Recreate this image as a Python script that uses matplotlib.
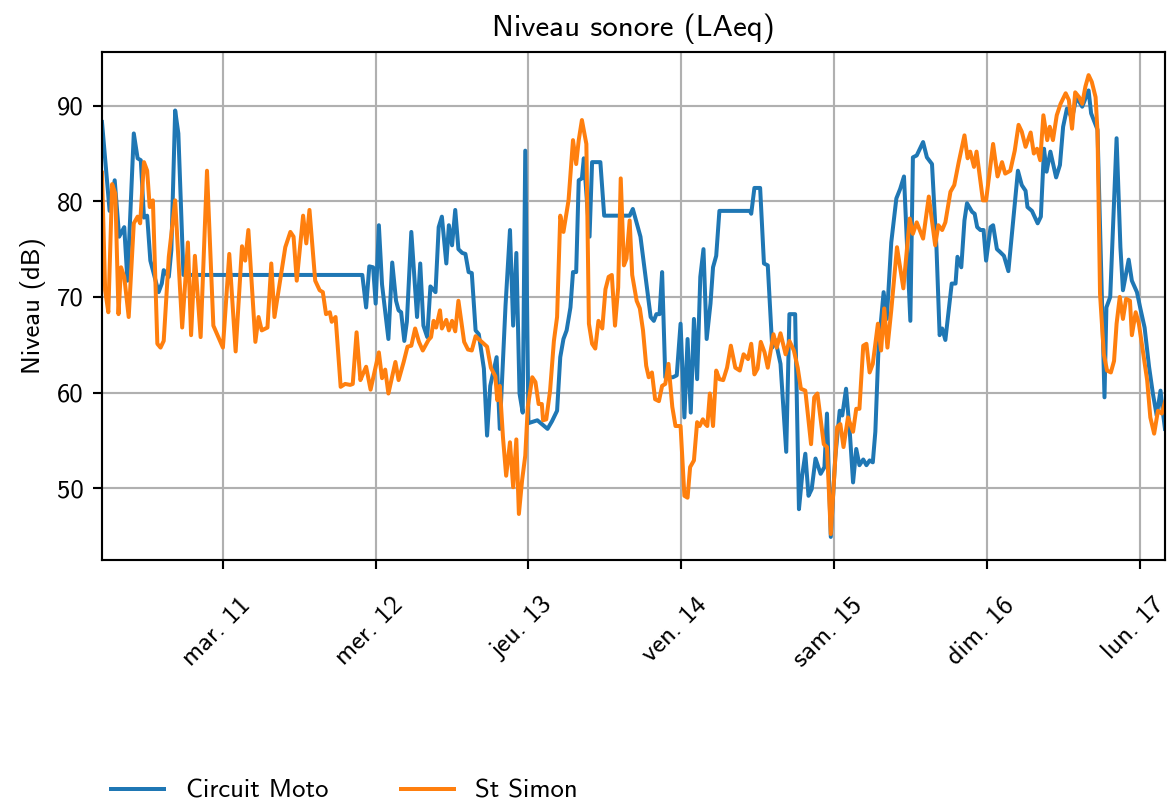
import matplotlib
matplotlib.use("Agg")
import matplotlib.pyplot as plt
import matplotlib.dates as mdates
from matplotlib.ticker import FuncFormatter
from matplotlib.transforms import ScaledTranslation
from datetime import datetime, timedelta

plt.rcParams['font.family'] = ['cmss10', 'DejaVu Sans']
plt.rcParams['axes.unicode_minus'] = False

# heures depuis le début de la mesure (lun. 10 mars, 05:00)
start = datetime(2025, 3, 10, 5, 0)

moto_h = [0.0, 1.2, 2.0, 2.7, 3.5, 4.0, 5.0, 5.6, 6.1, 6.6, 7.1, 7.6, 8.9, 9.4, 9.7,
          10.5, 10.9, 11.5, 12.0, 12.8, 40.9, 41.5, 42.0, 42.6, 43.0, 43.5, 44.0, 45.0,
          45.6, 46.2, 46.6, 47.0, 47.5, 47.9, 48.6, 49.5, 50.0, 50.5, 51.1, 51.6, 52.4,
          52.9, 53.4, 54.1, 54.5, 55.0, 55.5, 56.0, 56.6, 57.1, 57.6, 58.1, 58.7, 59.2,
          60.0, 60.5, 61.0, 62.0, 62.5, 63.4, 64.1, 64.6, 65.1, 65.6, 66.1, 66.5, 67.0,
          68.4, 70.0, 70.7, 71.5, 72.0, 72.5, 73.0, 73.6, 74.0, 74.5, 74.9, 75.4, 75.7,
          76.6, 77.0, 78.3, 78.9, 82.9, 83.4, 84.6, 86.2, 86.7, 87.1, 87.6, 88.0, 88.5,
          89.7, 90.3, 90.9, 91.5, 92.0, 92.5, 93.0, 93.5, 94.0, 94.5, 95.0, 95.6, 96.0,
          96.5, 97.0, 101.8, 102.0, 102.5, 103.4, 104.0, 104.6, 105.3, 105.8, 106.6,
          107.5, 108.0, 108.9, 109.5, 110.0, 110.5, 111.0, 111.5, 112.1, 112.9, 113.5,
          113.9, 114.5, 115.2, 115.9, 116.3, 116.9, 117.5, 118.0, 118.5, 119.0, 119.6,
          120.1, 120.6, 121.1, 121.5, 122.0, 122.8, 123.3, 124.0, 124.8, 125.4, 126.0,
          127.0, 127.4, 128.0, 129.0, 129.6, 130.4, 131.1, 131.6, 132.0, 132.5, 133.5,
          134.1, 134.4, 135.0, 135.5, 135.9, 136.7, 137.1, 137.5, 138.0, 138.5, 138.9,
          139.6, 140.0, 140.6, 141.1, 141.7, 142.4, 143.9, 144.5, 145.1, 145.4, 146.1,
          147.0, 147.5, 148.0, 148.4, 149.0, 149.9, 150.5, 151.0, 151.6, 152.4, 153.1,
          154.0, 155.0, 155.4, 156.4, 157.5, 157.8, 158.4, 159.4, 160.0, 160.4, 161.3,
          161.8, 162.6, 163.1, 163.8, 164.5, 165.1, 165.7, 166.3, 166.7, 167.0]
moto_db = [88.3, 79.0, 82.2, 76.3, 77.3, 71.7, 87.1, 84.5, 84.3, 78.3, 78.5, 73.8, 70.5, 71.4, 72.8,
           72.1, 74.9, 89.5, 87.1, 72.3, 72.3, 68.9, 73.2, 73.1, 69.3, 77.5, 71.3, 65.6,
           73.6, 69.6, 68.6, 68.4, 65.4, 67.4, 76.8, 67.9, 73.5, 67.0, 65.8, 71.1, 70.5,
           77.3, 78.4, 73.5, 77.5, 75.4, 79.1, 75.0, 74.6, 74.5, 72.6, 72.5, 66.5, 66.1,
           62.5, 55.5, 60.7, 63.7, 56.2, 69.1, 77.0, 67.0, 74.6, 59.9, 57.9, 85.3, 56.8,
           57.1, 56.2, 57.0, 58.1, 63.7, 65.6, 66.5, 68.9, 72.6, 72.6, 82.2, 82.4, 84.5,
           76.3, 84.1, 84.1, 78.5, 78.5, 79.2, 76.3, 67.9, 67.5, 68.2, 68.2, 72.6, 61.6,
           61.6, 61.8, 67.2, 57.4, 65.6, 57.9, 67.7, 61.4, 72.1, 75.0, 65.6, 69.3, 73.1,
           74.3, 79.0, 79.0, 78.7, 81.4, 81.4, 73.5, 73.3, 64.7, 65.5, 63.0,
           53.8, 68.2, 68.2, 47.8, 51.3, 53.6, 49.2, 49.9, 53.1, 51.5, 52.2,
           57.8, 44.9, 53.2, 58.1, 57.6, 60.4, 55.7, 50.6, 54.1, 52.4, 53.0,
           52.4, 52.9, 52.7, 55.9, 64.7, 70.5, 67.7, 75.7, 80.3, 81.3, 82.6,
           67.5, 84.6, 84.8, 86.2, 84.6, 83.9, 75.2, 66.0, 66.7, 65.5, 71.4,
           71.4, 74.2, 73.1, 78.0, 79.8, 78.9, 78.7, 77.3, 77.0, 77.0, 73.8,
           77.3, 77.5, 75.0, 74.7, 74.3, 72.7, 83.2, 81.7, 81.1, 79.4, 79.0,
           77.7, 78.4, 85.5, 83.1, 85.2, 82.5, 83.8, 87.8, 89.7, 88.7, 90.9,
           89.9, 91.6, 89.2, 87.5, 59.5, 68.9, 70.0, 86.6, 75.2, 70.7, 73.9,
           71.7, 70.5, 68.9, 66.8, 62.7, 59.9, 57.6, 60.2, 57.8, 56.2]

simon_h = [0.0, 0.5, 1.0, 1.6, 2.1, 2.6, 3.0, 3.5, 4.2, 5.0, 5.6, 6.0, 6.6, 7.1, 7.5, 8.0,
           8.7, 9.2, 9.7, 10.5, 11.5, 12.6, 13.5, 14.0, 14.6, 15.5, 16.5, 17.5, 19.0,
           20.0, 21.0, 22.0, 22.5, 23.0, 24.1, 24.6, 25.1, 26.0, 26.6, 27.1, 28.8, 29.6,
           30.1, 30.6, 31.6, 32.1, 32.6, 33.5, 34.2, 34.7, 35.2, 35.8, 36.1, 36.7, 37.5,
           38.2, 39.0, 39.4, 40.0, 40.6, 41.1, 41.5, 42.2, 43.5, 44.0, 44.5, 45.0, 46.1,
           46.6, 47.4, 48.0, 48.6, 49.2, 49.8, 50.4, 51.3, 51.7, 52.1, 52.5, 53.1, 53.4,
           54.1, 54.5, 55.0, 55.5, 56.0, 56.9, 57.5, 58.1, 58.7, 59.5, 60.5, 61.1, 61.8,
           62.1, 62.5, 63.0, 63.5, 64.1, 64.6, 65.1, 65.5, 66.0, 66.5, 66.9, 67.6, 68.1,
           68.6, 69.1, 69.3, 69.8, 70.4, 71.0, 71.5, 72.0, 72.5, 73.3, 74.0, 74.5, 74.9,
           75.4, 76.1, 76.5, 77.0, 77.5, 78.0, 78.6, 79.1, 79.6, 80.1, 80.6, 81.1, 81.5,
           82.0, 82.4, 82.9, 83.3, 84.0, 84.5, 85.0, 85.5, 85.9, 86.4, 86.9, 87.5, 88.0,
           88.5, 89.0, 89.6, 90.1, 90.9, 91.5, 92.0, 92.4, 93.0, 93.5, 93.9, 94.4, 94.8,
           95.1, 95.5, 96.0, 96.5, 97.0, 97.6, 98.2, 98.8, 99.5, 100.2, 100.8, 101.5,
           102.0, 102.5, 103.0, 103.5, 104.1, 104.6, 105.5, 106.0, 106.6, 107.4, 108.0,
           108.7, 109.3, 109.8, 110.5, 111.4, 111.9, 112.4, 113.4, 113.9, 114.5, 115.5,
           116.0, 116.5, 117.2, 118.0, 118.5, 119.0, 119.6, 120.1, 120.6, 121.1, 121.9,
           122.4, 122.9, 123.4, 124.0, 124.9, 125.9, 126.9, 127.4, 128.0, 129.0, 129.9,
           130.9, 131.4, 132.0, 132.5, 133.3, 133.9, 134.6, 135.5, 136.0, 136.4, 137.0,
           137.4, 138.4, 138.9, 140.0, 140.7, 141.4, 141.9, 142.7, 143.4, 144.0, 144.5,
           145.1, 145.9, 146.4, 146.9, 147.4, 147.9, 148.5, 148.9, 149.4, 150.0, 150.6,
           151.4, 151.9, 152.4, 152.9, 153.5, 154.0, 154.5, 155.0, 155.5, 156.1, 156.4,
           156.8, 157.4, 157.9, 158.5, 159.0, 159.4, 159.9, 160.4, 160.9, 161.5, 161.8,
           162.4, 162.9, 163.6, 164.2, 164.7, 165.3, 165.9, 166.5, 167.0]
simon_db = [83.0, 70.7, 68.4, 81.8, 80.8, 68.2, 73.1, 72.1, 67.9, 77.7, 78.4, 77.7, 84.1, 83.2, 79.4, 80.1,
            65.1, 64.7, 65.4, 74.2, 80.1, 66.8, 75.7, 66.0, 74.3, 65.8, 83.2, 67.0, 64.7,
            74.5, 64.3, 75.3, 73.8, 77.0, 65.3, 67.9, 66.5, 66.8, 73.5, 67.9, 75.2, 76.8,
            76.3, 71.7, 78.5, 75.6, 79.1, 71.7, 70.7, 70.5, 68.2, 68.4, 67.4, 67.9, 60.6,
            60.9, 60.8, 60.9, 66.3, 61.3, 62.1, 62.7, 60.3, 64.2, 61.5, 62.4, 59.9, 63.2,
            61.3, 63.2, 64.8, 64.9, 66.7, 65.3, 64.4, 65.5, 65.8, 67.5, 66.8, 68.6, 66.7,
            67.6, 66.5, 67.5, 66.4, 69.6, 65.3, 64.5, 64.4, 65.9, 65.4, 64.8, 62.6, 61.7,
            59.2, 60.7, 55.3, 51.3, 54.8, 50.1, 55.1, 47.3, 50.8, 53.4, 58.5, 61.6, 61.1,
            58.8, 58.8, 57.1, 57.2, 60.2, 65.4, 67.9, 78.5, 76.8, 80.1, 86.4, 83.9, 86.4,
            88.5, 86.0, 67.2, 65.1, 64.6, 67.5, 66.7, 70.8, 72.1, 72.3, 67.0, 71.0, 82.4,
            73.3, 74.0, 78.0, 72.3, 69.6, 68.8, 66.5, 62.8, 61.6, 62.1, 59.3, 59.1, 60.7,
            60.9, 63.0, 58.5, 56.5, 56.5, 49.2, 49.0, 52.2, 52.9, 56.9, 56.5, 57.2, 56.7,
            56.5, 59.9, 56.5, 62.3, 61.4, 61.3, 62.6, 64.9, 62.6, 62.3, 64.0, 63.5,
            65.1, 61.9, 62.5, 65.3, 64.2, 62.6, 66.1, 64.7, 66.2, 64.0, 65.4,
            64.4, 62.6, 60.4, 60.2, 54.6, 59.5, 59.9, 54.6, 54.3, 45.2, 56.4,
            56.7, 54.3, 57.4, 55.9, 58.3, 58.3, 64.9, 65.1, 62.1, 63.0, 67.2,
            64.4, 68.8, 64.7, 68.6, 75.2, 70.9, 78.2, 76.6, 77.8, 76.1, 80.5,
            75.4, 77.5, 77.0, 77.8, 81.0, 81.7, 84.1, 86.9, 84.5, 85.2, 83.6,
            85.2, 80.1, 80.1, 86.0, 82.6, 84.1, 82.9, 83.2, 85.3, 88.0, 87.3,
            85.7, 87.2, 85.0, 85.5, 84.3, 89.0, 86.4, 87.8, 86.4, 89.0, 90.2,
            91.3, 90.6, 87.6, 91.4, 90.9, 90.2, 92.0, 93.2, 92.5, 90.9, 87.3,
            70.3, 64.0, 62.3, 62.1, 63.3, 67.2, 70.0, 67.7, 69.8, 69.6, 66.0,
            68.4, 67.2, 64.0, 61.3, 57.4, 55.7, 58.1, 57.8, 59.0]

jours = ['lun.', 'mar.', 'mer.', 'jeu.', 'ven.', 'sam.', 'dim.']

moto_t = [start + timedelta(hours=h) for h in moto_h]
simon_t = [start + timedelta(hours=h) for h in simon_h]

dpi = 192
fig = plt.figure(figsize=(1168 / dpi, 803 / dpi), dpi=dpi)
ax = fig.add_axes([0.0873, 0.3026, 0.9101, 0.6326])

ax.plot(moto_t, moto_db, color='tab:blue', label='Circuit Moto')
ax.plot(simon_t, simon_db, color='tab:orange', label='St Simon')

ax.set_xlim(moto_t[0], moto_t[-1])
ax.xaxis.set_major_locator(mdates.DayLocator())
ax.xaxis.set_major_formatter(FuncFormatter(
    lambda x, pos: f"{jours[mdates.num2date(x).weekday()]} {mdates.num2date(x).day}"))
ax.tick_params(axis='x', rotation=45, pad=9)
ax.grid(True)

ax.set_title('Niveau sonore (LAeq)', fontsize=11.6)
ax.set_ylabel('Niveau (dB)')

fig.legend(loc='center left', bbox_to_anchor=(87 / 1168, 12 / 803), ncol=2,
           frameon=False, columnspacing=2.72)

# léger décalage des dates vers la gauche, comme sur l'original
fig.canvas.draw()
shift = ScaledTranslation(-6 / dpi, 0, fig.dpi_scale_trans)
for lab in ax.get_xticklabels():
    lab.set_transform(lab.get_transform() + shift)

fig.savefig('out.png', dpi=dpi)
